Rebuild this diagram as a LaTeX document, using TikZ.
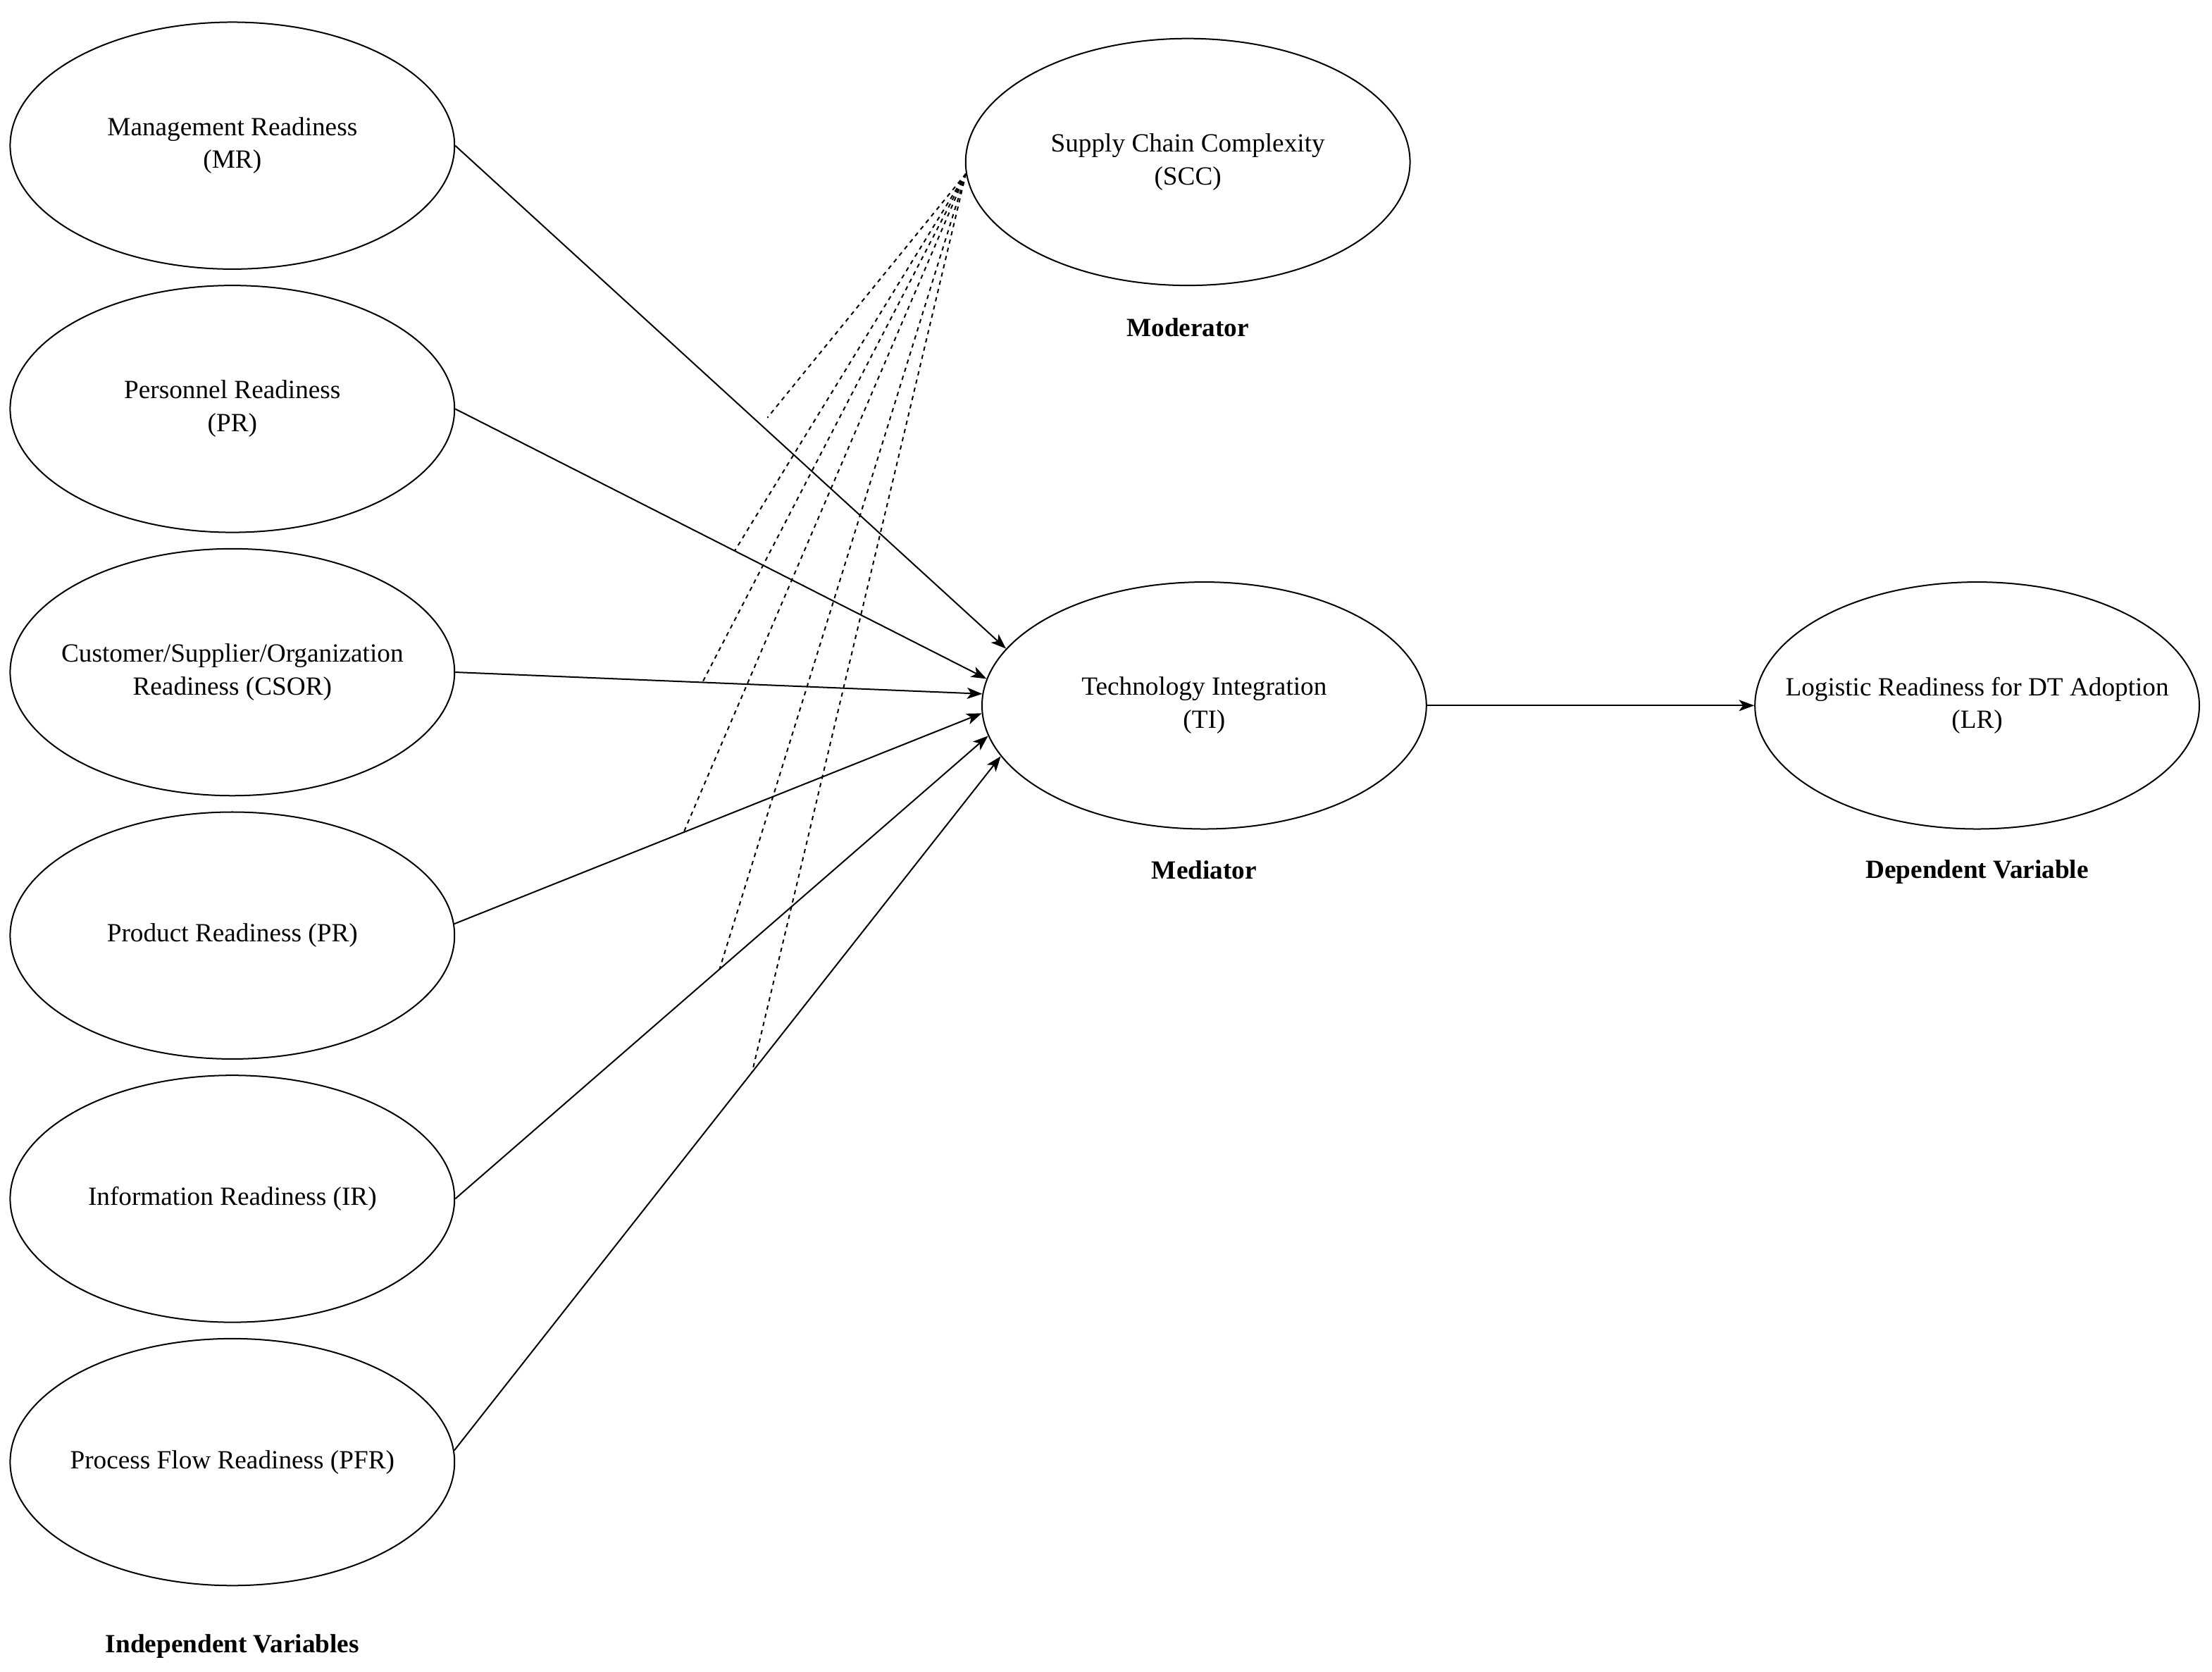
\documentclass[tikz,border=0pt]{standalone}
\usepackage{fontspec}
\setmainfont{Liberation Serif}
\usetikzlibrary{shapes.geometric,arrows.meta}

\begin{document}
\begin{tikzpicture}
  [x=0.5pt,y=-0.5pt,
   every node/.style={font=\fontsize{9.3}{11.65}\selectfont,align=center},
   var/.style={ellipse,draw,line width=0.5pt,minimum width=157.5pt,minimum height=87.5pt,
     inner xsep=-20pt,inner ysep=0pt},
   lab/.style={font=\fontsize{9.3}{11.65}\selectfont\bfseries},
   link/.style={line width=0.5pt,-{Stealth[length=5.4pt,width=4pt,inset=1.4pt]}},
   mod/.style={line width=0.5pt,dash pattern=on 1.5pt off 1.5pt}]
  \useasboundingbox (0,0) rectangle (1568,1184.5);
  % independent variables
  \node[var] (mr) at (164.7,103.2) {Management Readiness\\(MR)};
  \node[var] (pr) at (164.7,289.8) {Personnel Readiness\\(PR)};
  \node[var] (csor) at (164.7,476.4) {Customer/Supplier/Organization\\Readiness (CSOR)};
  \node[var] (prod) at (164.7,663) {Product Readiness (PR)};
  \node[var] (ir) at (164.7,849.6) {Information Readiness (IR)};
  \node[var] (pfr) at (164.7,1036.2) {Process Flow Readiness (PFR)};
  % moderator, mediator, dependent
  \node[var] (scc) at (842,114.8) {Supply Chain Complexity\\(SCC)};
  \node[var] (ti) at (853.6,500) {Technology Integration\\(TI)};
  \node[var] (lr) at (1401.5,500) {Logistic Readiness for DT Adoption\\(LR)};
  \node[lab] (modl) at (842,232) {Moderator};
  \node[lab] (medl) at (853.6,616.5) {Mediator};
  \node[lab] (depl) at (1401.5,618) {Dependent Variable};
  \node[lab] (indl) at (164.7,1167) {Independent Variables};
  \coordinate (mrm) at (544,296);
  \foreach \from/\to/\p/\m in {pr.east/ti.173.4/0.526/prm,csor.east/ti.177.8/0.469/csorm,
      prod.3/ti.182.8/0.435/prodm,ir.east/ti.188.5/0.496/irm,pfr.3.4/ti.194/0.545/pfrm}
    \draw[link] (\from) -- (\to) coordinate[pos=\p] (\m);
  \draw[link] (mr.east) -- (ti.164.4);
  \draw[link] (ti) -- (lr);
  \foreach \m in {mrm,prm,csorm,prodm,irm,pfrm}
    \draw[mod] (scc.183.5) -- (\m);
\end{tikzpicture}
\end{document}
